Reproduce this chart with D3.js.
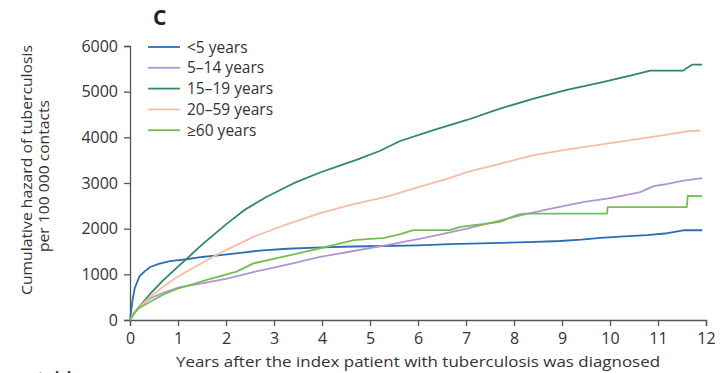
<!DOCTYPE html>
<html>
<head>
<meta charset="utf-8">
<script src="https://cdn.jsdelivr.net/npm/d3@7"></script>
<style>
    body { margin: 0; background: #fff; }
    svg text { font-family: "Open Sans", sans-serif; fill: #333; }
</style>
</head>
<body>
<div id="chart"></div>
<script>
"use strict";

// Series (years, cumulative hazard per 100 000)
let groups = ["<5 years", "5\u201314 years", "15\u201319 years", "20\u201359 years", "\u226560 years"];
let colours = ["#2f6db3", "#b394d3", "#2f8a5c", "#f8bca4", "#73bf4e"];

let under5T = [0, 0.05, 0.1, 0.2, 0.3, 0.42, 0.6, 0.83, 1.18, 1.5, 1.88, 2.22, 2.7, 3.27, 4, 4.66, 5.3, 6, 6.67, 7.3, 7.71, 8.3, 8.96, 9.4, 9.8, 10.3, 10.77, 11.2, 11.53, 11.92];
let under5V = [0, 420, 700, 960, 1060, 1160, 1230, 1290, 1330, 1380, 1420, 1460, 1520, 1560, 1590, 1610, 1620, 1635, 1660, 1680, 1690, 1705, 1730, 1760, 1800, 1830, 1860, 1900, 1965, 1965];

let age5T = [0, 0.1, 0.2, 0.42, 0.7, 1.04, 1.5, 2.0, 2.57, 3.3, 3.96, 4.6, 5.35, 6.05, 6.5, 7.02, 7.6, 8.2, 8.7, 9.1, 9.5, 9.94, 10.3, 10.63, 10.91, 11.2, 11.53, 11.92];
let age5V = [0, 180, 300, 470, 600, 720, 800, 900, 1050, 1220, 1380, 1500, 1640, 1780, 1880, 2000, 2150, 2310, 2420, 2510, 2590, 2660, 2730, 2800, 2930, 2980, 3050, 3105];

let age15T = [0, 0.1, 0.2, 0.42, 0.7, 1.0, 1.18, 1.5, 2.02, 2.4, 2.85, 3.4, 3.96, 4.4, 4.73, 5.2, 5.63, 6.32, 7.02, 7.71, 8.41, 9.1, 9.8, 10.49, 10.84, 11.53, 11.6, 11.71, 11.92];
let age15V = [0, 170, 300, 570, 880, 1170, 1340, 1650, 2110, 2420, 2700, 2990, 3230, 3390, 3510, 3700, 3920, 4160, 4380, 4630, 4850, 5040, 5200, 5370, 5460, 5460, 5520, 5590, 5590];

let age20T = [0, 0.1, 0.2, 0.42, 0.7, 1.0, 1.18, 1.5, 1.74, 2.0, 2.57, 3.2, 3.96, 4.6, 5.35, 6.05, 6.6, 7.02, 7.7, 8.41, 9.1, 9.8, 10.5, 11.19, 11.6, 11.88];
let age20V = [0, 170, 290, 500, 740, 950, 1060, 1250, 1390, 1530, 1820, 2070, 2340, 2520, 2700, 2920, 3090, 3240, 3420, 3610, 3730, 3840, 3950, 4060, 4130, 4150];

let age60T = [0, 0.1, 0.2, 0.42, 0.7, 1.0, 1.18, 1.6, 2.22, 2.57, 3.2, 3.96, 4.66, 5.3, 5.63, 5.9, 6.67, 6.88, 7.71, 8.06, 8.2, 9.94, 9.95, 11.6, 11.62, 11.92];
let age60V = [0, 160, 270, 400, 560, 690, 740, 880, 1060, 1240, 1390, 1570, 1750, 1800, 1880, 1970, 1970, 2040, 2150, 2300, 2330, 2330, 2470, 2470, 2720, 2710];

let xTicks = [0, 1, 2, 3, 4, 5, 6, 7, 8, 9, 10, 11, 12];
let yTicks = [0, 1000, 2000, 3000, 4000, 5000, 6000];

function drawChart() {
    let width = 722;
    let height = 373;
    let left = 130;
    let right = 706;
    let top = 46;
    let bottom = 320;

    let series = [
        [under5T, under5V], [age5T, age5V], [age15T, age15V],
        [age20T, age20V], [age60T, age60V]
    ];

    let xScale = d3.scaleLinear().domain([0, 12]).range([left, right]);
    let yScale = d3.scaleLinear().domain([0, 6000]).range([bottom, top]);

    let svg = d3.select("#chart").append("svg")
        .attr("width", width).attr("height", height);

    // Panel letter
    svg.append("text").attr("x", 153).attr("y", 25)
        .style("font-size", "21px").style("font-weight", "bold")
        .style("fill", "#222").text("C");

    // Axes
    let yAxis = svg.append("g").attr("transform", `translate(${left},0)`)
        .call(d3.axisLeft(yScale).tickValues(yTicks).tickSize(6).tickPadding(6)
            .tickFormat(d3.format("d")));
    let xAxis = svg.append("g").attr("transform", `translate(0,${bottom})`)
        .call(d3.axisBottom(xScale).tickValues(xTicks).tickSize(6).tickPadding(7));

    [yAxis, xAxis].forEach(function (ax) {
        ax.selectAll("path, line").attr("stroke", "#555").attr("stroke-width", 1.3);
        ax.selectAll("text").style("font-size", "16px").style("fill", "#333")
            .attr("font-family", null);
    });

    // Axis titles
    svg.append("text").attr("x", 418).attr("y", 367)
        .style("text-anchor", "middle").style("font-size", "15px")
        .attr("textLength", 484).attr("lengthAdjust", "spacingAndGlyphs")
        .text("Years after the index patient with tuberculosis was diagnosed");

    svg.append("text").attr("transform", "translate(32,170) rotate(-90)")
        .style("text-anchor", "middle").style("font-size", "14px")
        .attr("textLength", 250).attr("lengthAdjust", "spacingAndGlyphs")
        .text("Cumulative hazard of tuberculosis");
    svg.append("text").attr("transform", "translate(49,176) rotate(-90)")
        .style("text-anchor", "middle").style("font-size", "14px")
        .attr("textLength", 152).attr("lengthAdjust", "spacingAndGlyphs")
        .text("per 100 000 contacts");

    // Cut-off heading of the table below
    svg.append("text").attr("x", 76).attr("y", 382)
        .style("text-anchor", "end").style("font-size", "15px")
        .style("font-weight", "bold").text("Numbers at risk");

    // Curves
    let line = d3.line()
        .x(function (d) { return xScale(d[0]); })
        .y(function (d) { return yScale(d[1]); });

    series.forEach(function (s, i) {
        let pts = s[0].map(function (t, j) { return [t, s[1][j]]; });
        svg.append("path").datum(pts)
            .attr("d", line)
            .attr("fill", "none")
            .attr("stroke", colours[i])
            .attr("stroke-width", 1.8)
            .attr("stroke-linejoin", "round");
    });

    // Legend
    let legend = svg.append("g");
    groups.forEach(function (g, i) {
        let y = 47 + i * 20.8;
        legend.append("line").attr("x1", 148).attr("x2", 180)
            .attr("y1", y).attr("y2", y)
            .attr("stroke", colours[i]).attr("stroke-width", 1.8);
        legend.append("text").attr("x", 187).attr("y", y + 5.5)
            .style("font-size", "15.5px").text(g);
    });
}

window.onload = function () {
    drawChart();
};
</script>
</body>
</html>
